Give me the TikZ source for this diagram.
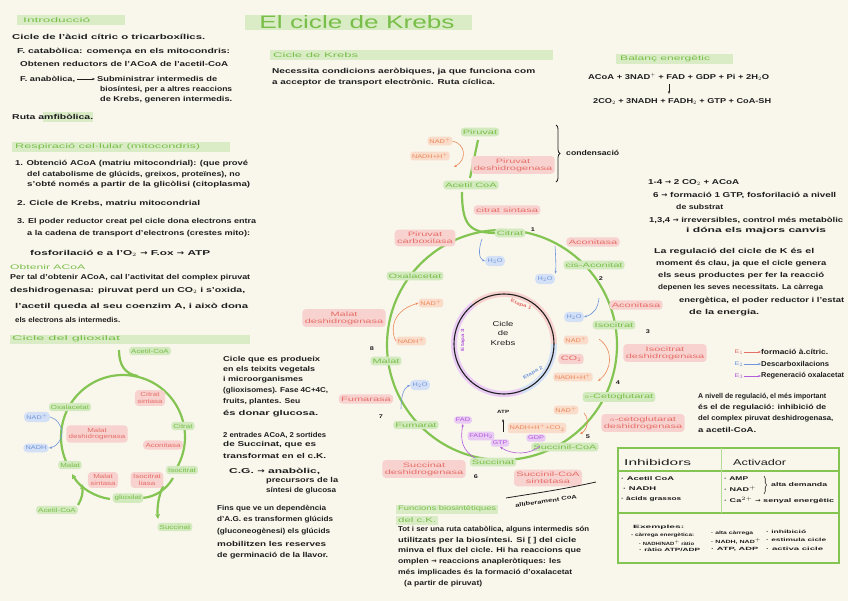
\documentclass[tikz,border=0pt]{standalone}
\usepackage{graphicx}
\usepackage{fontspec}
\setmainfont[FakeStretch=1.35]{Liberation Sans}
\newfontfamily\lbl[FakeStretch=1.75]{Liberation Sans}
\newfontfamily\symf{DejaVu Sans}
\usetikzlibrary{arrows.meta,decorations.pathreplacing}
\definecolor{bgc}{HTML}{F9F7EC}
\definecolor{gbar}{HTML}{D9ECC6}
\definecolor{gtext}{HTML}{78BE48}
\definecolor{gline}{HTML}{84C452}
\definecolor{gfill}{HTML}{D3EABF}
\definecolor{rfill}{HTML}{F8D2CF}
\definecolor{rtext}{HTML}{E66E68}
\definecolor{ofill}{HTML}{FADCCB}
\definecolor{otext}{HTML}{EC8758}
\definecolor{bfill}{HTML}{D3E0F6}
\definecolor{btext}{HTML}{7096DB}
\definecolor{pfill}{HTML}{E9CBF3}
\definecolor{ptext}{HTML}{B25BDD}
\definecolor{ink}{HTML}{1E1E1E}
\newcommand{\fb}{\fontsize{7.1}{8}\selectfont\bfseries}
\newcommand{\fl}{\lbl\fontsize{6.3}{7.2}\selectfont}
\newcommand{\fg}{\fontsize{5.9}{6.8}\selectfont}
\newcommand{\fs}{\fontsize{5.4}{6.2}\selectfont}
\newcommand{\ft}{\fontsize{4.6}{5.2}\selectfont\bfseries}
\newcommand{\ra}{{\symf →}}
\newcommand{\tw}[2]{\resizebox{#1pt}{\height}{#2}}
\begin{document}
\begin{tikzpicture}[x=1pt,y=-1pt,
  tx/.style={anchor=west,inner sep=0pt,font=\fb,text=ink},
  gh/.style={anchor=west,inner sep=0pt,font=\fontsize{6.6}{7.4}\selectfont,text=gtext},
  gnd/.style={fill=gfill,text=gtext,rounded corners=3pt,inner sep=2pt,font=\fl,align=center},
  rnd/.style={fill=rfill,text=rtext,rounded corners=3.5pt,inner sep=2.4pt,font=\fl,align=center},
  ggn/.style={gnd,font=\fg},
  grn/.style={rnd,font=\fg},
  ond/.style={fill=ofill,text=otext,rounded corners=3pt,inner sep=1.8pt,font=\fs,align=center},
  bnd/.style={fill=bfill,text=btext,rounded corners=4pt,inner sep=2.4pt,font=\fs},
  pnd/.style={fill=pfill,text=ptext,rounded corners=3pt,inner sep=1.8pt,font=\fs},
  nm/.style={inner sep=0pt,font=\fs\bfseries,text=ink},
  cyc/.style={draw=gline,line width=2.2pt},
  gar/.style={draw=gline,line width=2.2pt,-{Stealth[length=5pt,width=5pt]}},
  hb/.style={fill=gbar},
  oc/.style={draw=otext,line width=0.6pt,-{Stealth[length=3pt]}},
  bc/.style={draw=btext,line width=0.6pt,-{Stealth[length=3pt]}},
  pc/.style={draw=ptext,line width=0.6pt,-{Stealth[length=3pt]}},
  kar/.style={draw=ink,line width=0.7pt,-{Stealth[length=3pt]}},
]
\useasboundingbox (0,0) rectangle (848,601);
\fill[bgc] (0,0) rectangle (848,601);

% ---------- Title ----------
\fill[hb] (245,15) rectangle (472,30);
\node[text=gtext,font=\fontsize{18}{20}\selectfont,inner sep=0pt] (title) at (357,22) {\tw{195}{El cicle de Krebs}};

% ---------- Introduccio ----------
\fill[hb] (17,15) rectangle (125,25);
\node[gh] (h1) at (23,20) {\tw{67}{Introducció}};
\node[tx] (i1) at (12,37) {\tw{193}{Cicle de l'àcid cítric o tricarboxílics.}};
\node[tx] (i2) at (17,52) {\tw{213}{F. catabòlica: comença en els mitocondris:}};
\node[tx] (i3) at (20,64) {\tw{208}{Obtenen reductors de l'ACoA de l'acetil-CoA}};
\node[tx] (i4) at (20,79) {\tw{55}{F. anabòlica,}};
\node[tx] (i5) at (97,79) {\tw{120}{Subministrar intermedis de}};
\draw[kar] ([xshift=2pt]i4.east) -- ([xshift=-2pt]i5.west);
\node[tx] (i6) at (100,90) {\tw{132}{biosíntesi, per a altres reaccions}};
\node[tx] (i7) at (100,100) {\tw{132}{de Krebs, generen intermedis.}};
\fill[hb] (43,112) rectangle (93,122);
\node[tx] (i8) at (12,117) {\tw{81}{Ruta amfibòlica.}};

% ---------- Respiracio ----------
\fill[hb] (12,142) rectangle (230,152);
\node[gh] (h2) at (15,147) {\tw{185}{Respiració cel·lular (mitocondris)}};
\node[tx] (r1) at (15,164) {\tw{233}{1. Obtenció ACoA (matriu mitocondrial): (que prové}};
\node[tx] (r2) at (27,175) {\tw{213}{del catabolisme de glúcids, greixos, proteïnes), no}};
\node[tx] (r3) at (27,185) {\tw{223}{s'obté només a partir de la glicòlisi (citoplasma)}};
\node[tx] (r4) at (17,203) {\tw{183}{2. Cicle de Krebs, matriu mitocondrial}};
\node[tx] (r5) at (17,222) {\tw{239}{3. El poder reductor creat pel cicle dona electrons entra}};
\node[tx] (r6) at (27,234) {\tw{223}{a la cadena de transport d'electrons (crestes mito):}};
\node[tx] (r7) at (30,253) {\tw{180}{fosforilació e a l'O$_2$ \ra\ F.ox \ra\ ATP}};
\node[gh] (h3) at (10,267) {\tw{75}{Obtenir ACoA}};
\node[tx] (r8) at (10,278) {\tw{240}{Per tal d'obtenir ACoA, cal l'activitat del complex piruvat}};
\node[tx] (r9) at (10,291) {\tw{235}{deshidrogenasa: piruvat perd un CO$_2$ i s'oxida,}};
\node[tx] (r10) at (15,307) {\tw{233}{l'acetil queda al seu coenzim A, i això dona}};
\node[tx] (r11) at (15,320) {\tw{105}{els electrons als intermedis.}};

% ---------- Cicle del glioxilat ----------
\fill[hb] (10,335) rectangle (250,344);
\node[gh] (h4) at (12,339) {\tw{108}{Cicle del glioxilat}};
\draw[cyc] (123,437) ++(150:62) arc[start angle=150,end angle=390,radius=62];
\draw[cyc] (119,350) .. controls (119,364) and (124,374) .. (138,376);
\node[ggn] (ga1) at (150,351) {Acetil-CoA};
\node[ggn] (gox) at (70,407) {Oxalacetat};
\node[grn] (gcs) at (150,398) {Citrat\\sintasa};
\node[ggn] (gcit) at (183,426) {Citrat};
\node[grn] (gmd) at (97,434) {Malat\\deshidrogenasa};
\node[bnd] (gnad) at (37,417) {NAD$^+$};
\node[bnd] (gnadh) at (36,448) {NADH};
\draw[bc] (gnad.east) .. controls (56,418) and (62,426) .. (62,432) .. controls (62,440) and (56,447) .. (gnadh.east);
\node[grn] (gac) at (163,445) {Aconitasa};
\draw[gar] (110,499) .. controls (95,497) and (80,488) .. (72,474);
\draw[cyc] (173,478) .. controls (166,490) and (155,497) .. (142,498);
\draw[gar] (163,486) .. controls (158,498) and (157,508) .. (158,519);
\draw[gar] (78,505) .. controls (82,498) and (83,494) .. (82,484);
\node[ggn] (gmal) at (70,465) {Malat};
\node[ggn] (giso) at (182,470) {Isocitrat};
\node[grn] (gms) at (103,480) {Malat\\sintasa};
\node[grn] (gil) at (147,480) {Isocitrat\\liasa};
\node[ggn] (ggx) at (128,498) {glioxilat};
\node[ggn] (ga2) at (57,510) {Acetil-CoA};
\node[ggn] (gsuc) at (175,527) {Succinat};

\node[tx] (g1) at (223,360) {\tw{97}{Cicle que es produeix}};
\node[tx] (g2) at (223,370) {\tw{92}{en els teixits vegetals}};
\node[tx] (g3) at (223,380) {\tw{80}{i microorganismes}};
\node[tx] (g4) at (223,391) {\tw{105}{(glioxisomes). Fase 4C+4C,}};
\node[tx] (g5) at (223,402) {\tw{77}{fruits, plantes. Seu}};
\node[tx] (g6) at (223,414) {\tw{95}{és donar glucosa.}};
\node[tx] (g7) at (223,435) {\tw{103}{2 entrades ACoA, 2 sortides}};
\node[tx] (g8) at (223,445) {\tw{93}{de Succinat, que es}};
\node[tx] (g9) at (223,456) {\tw{103}{transformat en el c.K.}};
\node[tx] (g10) at (229,471) {\tw{91}{C.G. \ra\ anabòlic,}};
\node[tx] (g11) at (266,481) {\tw{72}{precursors de la}};
\node[tx] (g12) at (266,491) {\tw{70}{síntesi de glucosa}};
\node[tx] (g13) at (217,509) {\tw{109}{Fins que ve un dependència}};
\node[tx] (g14) at (217,520) {\tw{116}{d'A.G. es transformen glúcids}};
\node[tx] (g15) at (217,532) {\tw{113}{(gluconeogènesi) els glúcids}};
\node[tx] (g16) at (217,544) {\tw{109}{mobilitzen les reserves}};
\node[tx] (g17) at (217,556) {\tw{111}{de germinació de la llavor.}};

% ---------- Cicle de Krebs text ----------
\fill[hb] (270,50) rectangle (553,60);
\node[gh] (h5) at (273,55) {\tw{85}{Cicle de Krebs}};
\node[tx] (k1) at (272,72) {\tw{263}{Necessita condicions aeròbiques, ja que funciona com}};
\node[tx] (k2) at (272,83) {\tw{223}{a acceptor de transport electrònic. Ruta cíclica.}};

% ---------- Funcions biosintetiques ----------
\fill[hb] (396,505) rectangle (498,514);
\fill[hb] (396,516) rectangle (438,525);
\node[gh] (fh1) at (398,509) {\tw{98}{Funcions biosintètiques}};
\node[gh] (fh2) at (398,520) {\tw{38}{del c.K.}};
\node[tx] (fb1) at (398,530) {\tw{191}{Tot i ser una ruta catabòlica, alguns intermedis són}};
\node[tx] (fb2) at (398,541) {\tw{178}{utilitzats per la biosíntesi. Si [ ] del cicle}};
\node[tx] (fb3) at (398,551) {\tw{183}{minva el flux del cicle. Hi ha reaccions que}};
\node[tx] (fb4) at (398,562) {\tw{163}{omplen \ra\ reaccions anapleròtiques: les}};
\node[tx] (fb5) at (398,573) {\tw{174}{més implicades és la formació d'oxalacetat}};
\node[tx] (fb6) at (404,584) {\tw{78}{(a partir de piruvat)}};

% ---------- Balanc ----------
\fill[hb] (616,54) rectangle (733,64);
\node[gh] (h6) at (620,59) {\tw{90}{Balanç energètic}};
\node[tx] (b1) at (588,77) {\tw{181}{ACoA + 3NAD$^+$ + FAD + GDP + Pi + 2H$_2$O}};
\node[tx] (b2) at (593,102) {\tw{178}{2CO$_2$ + 3NADH + FADH$_2$ + GTP + CoA-SH}};
\draw[kar] (669,84) -- (669,94);

% ---------- Right notes ----------
\node[tx] (n1) at (648,183) {\tw{91}{1-4 \ra\ 2 CO$_2$ + ACoA}};
\node[tx] (n2) at (653,195) {\tw{183}{6 \ra\ formació 1 GTP, fosforilació a nivell}};
\node[tx] (n3) at (676,207) {\tw{47}{de substrat}};
\node[tx] (n4) at (649,220) {\tw{194}{1,3,4 \ra\ irreversibles, control més metabòlic}};
\node[tx] (n5) at (686,231) {\tw{140}{i dóna els majors canvis}};
\node[tx] (n6) at (654,252) {\tw{160}{La regulació del cicle de K és el}};
\node[tx] (n7) at (656,264) {\tw{170}{moment és clau, ja que el cicle genera}};
\node[tx] (n8) at (658,276) {\tw{166}{els seus productes per fer la reacció}};
\node[tx] (n9) at (658,288) {\tw{165}{depenen les seves necessitats. La càrrega}};
\node[tx] (n10) at (679,301) {\tw{165}{energètica, el poder reductor i l'estat}};
\node[tx] (n11) at (689,313) {\tw{70}{de la energia.}};

\node[inner sep=0pt,font=\fs,text=rtext] (e1) at (739,352) {E$_1$};
\node[inner sep=0pt,font=\fs,text=btext] (e2) at (739,364) {E$_2$};
\node[inner sep=0pt,font=\fs,text=ptext] (e3) at (739,376) {E$_3$};
\node[tx] (l1) at (761,352) {\tw{67}{formació à.cítric.}};
\node[tx] (l2) at (761,364) {\tw{68}{Descarboxilacions}};
\node[tx] (l3) at (761,376) {\tw{83}{Regeneració oxalacetat}};
\draw[draw=rtext,line width=0.6pt,-{Stealth[length=3pt]}] (e1.east) -- (l1.west);
\draw[draw=btext,line width=0.6pt,-{Stealth[length=3pt]}] (e2.east) -- (l2.west);
\draw[draw=ptext,line width=0.6pt,-{Stealth[length=3pt]}] (e3.east) -- (l3.west);

\node[tx] (q1) at (698,397) {\tw{128}{A nivell de regulació, el més important}};
\node[tx] (q2) at (698,408) {\tw{128}{és el de regulació: inhibició de}};
\node[tx] (q3) at (698,419) {\tw{135}{del complex piruvat deshidrogenasa,}};
\node[tx] (q4) at (698,430) {\tw{58}{a acetil-CoA.}};

% ---------- Table ----------
\draw[gline,line width=1.2pt] (618,448) rectangle (839,563);
\draw[gline,line width=1.2pt] (618,471) -- (839,471);
\draw[gline,line width=1.2pt] (618,513) -- (839,513);
\draw[gline!60,line width=1pt] (721,448) -- (721,513);
\node[tx,font=\fontsize{8.5}{9.5}\selectfont] (t1) at (624,462) {\tw{67}{Inhibidors}};
\node[tx,font=\fontsize{8.5}{9.5}\selectfont] (t2) at (733,462) {\tw{53}{Activador}};
\node[tx,font=\fs\bfseries] (t3) at (621,479) {\tw{53}{· Acetil CoA}};
\node[tx,font=\fs\bfseries] (t4) at (623,489) {\tw{33}{· NADH}};
\node[tx,font=\fs\bfseries] (t5) at (621,499) {\tw{60}{· àcids grassos}};
\node[tx,font=\fs\bfseries] (t6) at (724,479) {\tw{24}{· AMP}};
\node[tx,font=\fs\bfseries] (t7) at (724,489) {\tw{32}{· NAD$^+$}};
\draw[ink,line width=0.6pt,decorate,decoration={brace,amplitude=2.5pt}] (764,476) -- (764,494);
\node[tx,font=\fs\bfseries] (t8) at (771,485) {\tw{56}{alta demanda}};
\node[tx,font=\fs\bfseries] (t9) at (724,500) {\tw{110}{· Ca$^{2+}$ \ra\ senyal energètic}};
\node[tx,font=\ft] (t10) at (633,527) {\tw{51}{Exemples:}};
\node[tx,font=\ft] (t11) at (631,535) {\tw{63}{- càrrega energètica:}};
\node[tx,font=\ft] (t12) at (639,543) {\tw{55}{· NADH/NAD$^+$ ràtio}};
\node[tx,font=\ft] (t13) at (639,550) {\tw{61}{· ràtio ATP/ADP}};
\node[tx,font=\ft] (t14) at (711,533) {\tw{42}{· alta càrrega}};
\node[tx,font=\ft] (t15) at (711,541) {\tw{50}{· NADH, NAD$^+$}};
\node[tx,font=\ft] (t16) at (711,549) {\tw{47}{· ATP, ADP}};
\node[tx,font=\ft] (t17) at (766,532) {\tw{40}{· inhibició}};
\node[tx,font=\ft] (t18) at (766,540) {\tw{60}{· estimula cicle}};
\node[tx,font=\ft] (t19) at (766,549) {\tw{57}{· activa cicle}};

% ---------- Krebs cycle ----------
\draw[cyc] (502,345) circle[radius=115];
\draw[rfill,line width=6pt] (504,344) ++(232:50) arc[start angle=232,end angle=360,radius=50];
\draw[bfill,line width=6pt] (504,344) ++(0:50) arc[start angle=0,end angle=70,radius=50];
\draw[pfill,line width=6pt] (504,344) ++(70:50) arc[start angle=70,end angle=232,radius=50];
\draw[ink,line width=1.1pt] (504,344) circle[radius=50];
\node[align=center,font=\fontsize{7}{9.5}\selectfont,text=ink,inner sep=0pt] (kc) at (503,333) {Cicle\\de\\Krebs};
\node[font=\ft,text=rtext,rotate=-22,inner sep=0pt] (et1) at (521,305) {Etapa 1};
\node[font=\ft,text=btext,rotate=30,inner sep=0pt] (et2) at (533,373) {Etapa 2};
\node[font=\ft,text=ptext,rotate=90,inner sep=0pt] (et3) at (463,340) {Etapa 3};

\draw[cyc] (478,140) -- (470,178);
\draw[cyc] (462,192) .. controls (462,226) and (470,233) .. (497,233);

\node[gnd] (pir) at (480,132) {Piruvat};
\node[ond] (nadp1) at (440,141) {NAD$^+$};
\node[ond] (nadh1) at (430,156) {NADH+H$^+$};
\draw[oc] (nadp1.east) .. controls (466,144) and (467,160) .. (454,167);
\node[rnd] (pdh) at (513,165) {Piruvat\\deshidrogenasa};
\draw[ink,line width=0.8pt,decorate,decoration={brace,amplitude=4pt}] (556,125) -- (556,182);
\node[tx] (cond) at (566,153) {\tw{53}{condensació}};
\node[gnd] (acoa) at (471,185) {Acetil CoA};
\node[rnd] (cs) at (507,210) {citrat sintasa};
\node[gnd] (cit) at (510,233) {Citrat};
\node[nm] (n1k) at (533,230) {1};
\node[rnd] (pc) at (425,238) {Piruvat\\carboxilasa};
\node[bnd] (w1) at (495,261) {H$_2$O};
\draw[bc] (482,239) .. controls (478,250) and (479,259) .. (w1.west);
\node[bnd] (w2) at (545,279) {H$_2$O};
\draw[bc] (555,246) .. controls (556,260) and (556,270) .. (w2.north east);
\node[gnd] (oxa) at (415,276) {Oxalacetat};
\node[rnd] (acn1) at (593,242) {Aconitasa};
\node[gnd] (cis) at (594,265) {cis-Aconitat};
\node[nm] (n2k) at (601,279) {2};
\node[bnd] (w3) at (574,317) {H$_2$O};
\draw[bc] (599,298) .. controls (598,308) and (594,314) .. (w3.east);
\node[rnd] (acn2) at (636,305) {Aconitasa};
\node[gnd] (iso) at (614,325) {Isocitrat};
\node[nm] (n3k) at (648,332) {3};
\node[ond] (nadp2) at (576,340) {NAD$^+$};
\node[rnd] (co2a) at (571,359) {CO$_2$};
\node[ond] (nadh2) at (573,377) {NADH+H$^+$};
\draw[oc] (599,339) .. controls (614,350) and (612,370) .. (598,381);
\node[rnd] (idh) at (665,353) {Isocitrat\\deshidrogenasa};
\node[nm] (n4k) at (618,383) {4};
\node[gnd] (akg) at (619,397) {$\alpha$-Cetoglutarat};
\node[rnd] (akgd) at (643,423) {$\alpha$-cetoglutarat\\deshidrogenasa};
\node[ond] (nadp3) at (566,410) {NAD$^+$};
\node[ond] (nadh3) at (537,428) {NADH+H$^+$+CO$_2$};
\draw[oc] (584,413) .. controls (590,420) and (587,430) .. (580,434);
\node[nm] (n5k) at (588,437) {5};
\node[gnd] (scoa) at (565,447) {Succinil-CoA};
\node[rnd] (scs) at (548,478) {Succinil-CoA\\sintetasa};
\node[pnd] (gdp) at (536,438) {GDP};
\node[pnd] (gtp) at (500,443) {GTP};
\draw[pc] (540,446) .. controls (530,455) and (512,455) .. (gtp.south);
\node[tx,font=\ft] (atp) at (497,412) {ATP};
\draw[kar] (503,432) -- (503,419);
\node[gnd] (suc) at (493,462) {Succinat};
\node[nm] (n6k) at (476,477) {6};
\node[pnd] (fad) at (463,420) {FAD};
\node[pnd] (fadh) at (481,436) {FADH$_2$};
\draw[pc] (475,458) .. controls (462,450) and (460,440) .. (fad.south);
\node[rnd] (sdh) at (424,469) {Succinat\\deshidrogenasa};
\draw[ink,line width=0.8pt] (506,498) .. controls (530,494) and (560,490) .. (596,482);
\node[tx,font=\fs\bfseries,rotate=8,anchor=center] (sub) at (546,501) {\tw{62}{alliberament CoA}};
\node[gnd] (fum) at (416,425) {Fumarat};
\node[nm] (n7k) at (381,417) {7};
\node[rnd] (fms) at (366,399) {Fumarasa};
\node[bnd] (w4) at (420,385) {H$_2$O};
\draw[bc] (401,409) .. controls (401,395) and (404,388) .. (w4.west);
\node[gnd] (mal) at (386,361) {Malat};
\node[nm] (n8k) at (372,349) {8};
\node[rnd] (mdh) at (344,318) {Malat\\deshidrogenasa};
\node[ond] (nadp4) at (431,303) {NAD$^+$};
\node[ond] (nadh4) at (411,341) {NADH$^+$};
\draw[oc] (nadh4.west) .. controls (392,335) and (388,312) .. (nadp4.west);
\end{tikzpicture}
\end{document}
